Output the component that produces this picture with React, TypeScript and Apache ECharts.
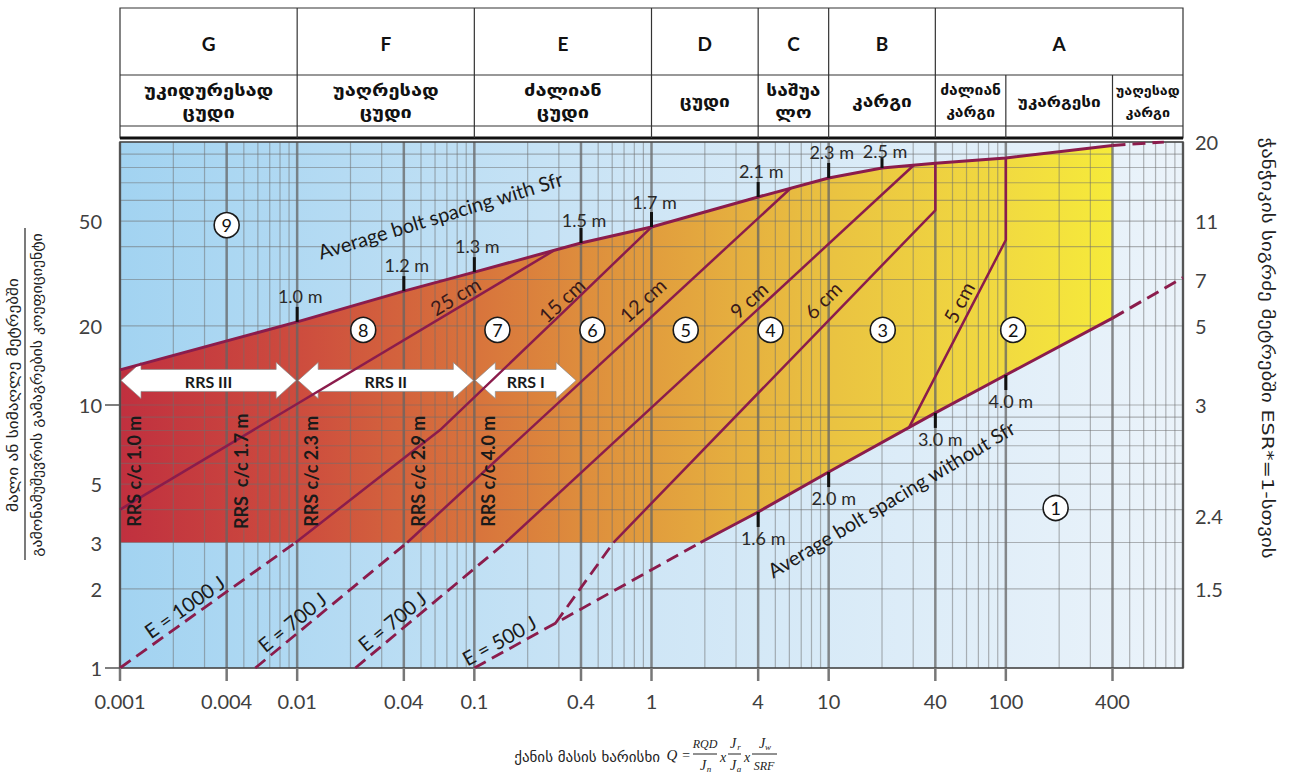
import React, { useEffect, useRef } from "react";
import * as echarts from "echarts";

// ================= DATA =================
// rock mass classes (header table)
const classBounds = [0.001, 0.01, 0.1, 1, 4, 10, 40, 1000];
const classLetters = ["G", "F", "E", "D", "C", "B", "A"];
const nameBounds = [0.001, 0.01, 0.1, 1, 4, 10, 40, 100, 400, 1000];
const classNames = [
  "უკიდურესად\nცუდი",
  "უაღრესად\nცუდი",
  "ძალიან\nცუდი",
  "ცუდი",
  "საშუა\nლო",
  "კარგი",
  "ძალიან\nკარგი",
  "უკარგესი",
  "უაღესად\nკარგი",
];

// axes
const qTicks = [0.001, 0.004, 0.01, 0.04, 0.1, 0.4, 1, 4, 10, 40, 100, 400];
const qTickLabels = ["0.001", "0.004", "0.01", "0.04", "0.1", "0.4", "1", "4", "10", "40", "100", "400"];
const spanTicks = [1, 2, 3, 5, 10, 20, 50];
const spanTickLabels = ["1", "2", "3", "5", "10", "20", "50"];
const boltLenSpan = [100, 50, 30, 20, 10, 3.8, 2];
const boltLenLabels = ["20", "11", "7", "5", "3", "2.4", "1.5"];

// boundary curves (Q, span/ESR)
const upperQ = [0.001, 0.01, 0.04, 0.1, 0.4, 1, 4, 10, 20, 40, 100, 400];
const upperS = [13.6, 20.7, 27.1, 32, 41.3, 47.5, 61.8, 73, 79.6, 83, 87, 97];
const upperExtQ = [400, 780];
const upperExtS = [97, 100];
const lowerQ = [1.89, 4, 10, 40, 100, 400];
const lowerS = [3, 3.92, 5.56, 9.33, 13.0, 21.4];
const lowerExtQ = [400, 1000];
const lowerExtS = [21.4, 30.5];
const lowerLeftQ = [0.1, 0.287, 1.89];
const lowerLeftS = [1, 1.48, 3];

// sprayed concrete thickness lines
const sfr25Q = [0.001, 0.28];
const sfr25S = [4, 38.6];
const sfr15Q = [0.0098, 0.064, 0.306, 1];
const sfr15S = [3, 8.03, 22.0, 47.5];
const sfr12Q = [0.0418, 6.1];
const sfr12S = [3, 66.7];
const sfr9Q = [0.15, 30.2];
const sfr9S = [3, 81.6];
const sfr6Q = [0.61, 40, 40];
const sfr6S = [3, 55, 83];
const sfr5Q = [28.3, 100, 100];
const sfr5S = [8.17, 42.4, 87];

// energy absorption lines (dashed)
const e1000Q = [0.001, 0.0098];
const e1000S = [1, 3];
const e700aQ = [0.0058, 0.0418];
const e700aS = [1, 3];
const e700bQ = [0.0213, 0.15];
const e700bS = [1, 3];
const e500Q = [0.287, 0.61];
const e500S = [1.48, 3];

// bolt spacing marks
const withSfrQ = [0.01, 0.04, 0.1, 0.4, 1, 4, 10, 20];
const withSfrS = [20.7, 27.1, 32, 41.3, 47.5, 61.8, 73, 79.6];
const withSfrLabels = ["1.0 m", "1.2 m", "1.3 m", "1.5 m", "1.7 m", "2.1 m", "2.3 m", "2.5 m"];
const withoutSfrQ = [4, 10, 40, 100];
const withoutSfrS = [3.92, 5.56, 9.33, 13.0];
const withoutSfrLabels = ["1.6 m", "2.0 m", "3.0 m", "4.0 m"];

// line labels
const sfrLabels = ["25 cm", "15 cm", "12 cm", "9 cm", "6 cm", "5 cm"];
const sfrLabelQ = [0.078, 0.31, 0.89, 3.53, 9.25, 54.2];
const sfrLabelS = [26.0, 25.1, 25.1, 25.1, 25.1, 24.6];
const sfrLabelRot = [31, 43, 42, 42, 45, 62];

const eLabels = ["E = 1000 J", "E = 700 J", "E = 700 J", "E = 500 J"];
const eLabelQ = [0.00231, 0.00935, 0.0343, 0.138];
const eLabelS = [1.715, 1.5, 1.51, 1.276];
const eLabelRot = [35, 39, 39, 29];

const curveLabels = ["Average bolt spacing with Sfr", "Average bolt spacing without Sfr"];
const curveLabelQ = [0.0643, 22.5];
const curveLabelS = [52.8, 4.4];
const curveLabelRot = [17, 31];

// support categories
const catLabels = ["9", "8", "7", "6", "5", "4", "3", "2", "1"];
const catQ = [0.004, 0.0236, 0.135, 0.464, 1.56, 4.7, 20.2, 110, 191];
const catS = [48.3, 19.3, 19.3, 19.3, 19.3, 19.3, 19.3, 19.3, 4.06];

// reinforced ribs of sprayed concrete
const rrsFromQ = [0.001, 0.01, 0.1];
const rrsToQ = [0.01, 0.1, 0.38];
const rrsLabels = ["RRS III", "RRS II", "RRS I"];
const rrsSpan = 12.4;
const rrsTextQ = [0.001, 0.004, 0.01, 0.04, 0.1];
const rrsTextLabels = ["RRS c/c 1.0 m", "RRS  c/c 1.7 m", "RRS c/c 2.3 m", "RRS c/c 2.9 m", "RRS c/c 4.0 m"];
const rrsTextSpan = 5.6;

// ================= STYLE =================
const LINE = "#8b1c4c";
const FONT = "Lato, 'DejaVu Sans', sans-serif";
const GEO = "'DejaVu Sans', sans-serif";

const zip = (a: number[], b: number[]) => a.map((v, i) => [v, b[i]]);

function lineSeries(qs: number[], ss: number[], width: number, dashed = false): any {
  return {
    type: "line",
    data: zip(qs, ss),
    symbol: "none",
    silent: true,
    z: 4,
    lineStyle: { color: LINE, width, type: dashed ? [13, 7] : "solid", cap: "butt" },
  };
}

function textSeries(qs: number[], ss: number[], texts: string[], o: any): any {
  return {
    type: "custom",
    z: o.z ?? 6,
    silent: true,
    data: zip(qs, ss),
    renderItem: (params: any, api: any) => {
      const i = params.dataIndex;
      const p = api.coord([api.value(0), api.value(1)]);
      const rot = Array.isArray(o.rot) ? o.rot[i] : o.rot || 0;
      const dy = Array.isArray(o.dy) ? o.dy[i] : o.dy || 0;
      return {
        type: "text",
        x: p[0] + (o.dx || 0),
        y: p[1] + dy,
        rotation: (rot * Math.PI) / 180,
        style: {
          text: texts[i],
          fill: o.color || "#222",
          fontSize: o.size || 16,
          fontFamily: o.family || FONT,
          fontWeight: o.weight || "normal",
          align: o.align || "center",
          verticalAlign: o.valign || "middle",
        },
      };
    },
  };
}

function markSeries(qs: number[], ss: number[], dx: number, dy: number | number[], stroke: string, width: number): any {
  return {
    type: "custom",
    z: 5,
    silent: true,
    data: zip(qs, ss),
    renderItem: (params: any, api: any) => {
      const p = api.coord([api.value(0), api.value(1)]);
      const d = Array.isArray(dy) ? dy[params.dataIndex] : dy;
      return {
        type: "line",
        shape: { x1: p[0], y1: p[1], x2: p[0] + dx, y2: p[1] + d },
        style: { stroke, lineWidth: width },
      };
    },
  };
}

function buildOption(): any {
  // grid line positions (axis structure)
  const vGrid: number[][] = [];
  for (let k = -3; k <= 2; k++) {
    for (let m = 1; m <= 9; m++) {
      const q = m * Math.pow(10, k);
      const major = m === 1 || m === 4 ? 1 : 0;
      vGrid.push([q, 1, major]);
    }
  }
  vGrid.push([1000, 1, 1]);
  const hGrid: number[][] = [];
  for (let k = 0; k <= 1; k++) {
    for (let m = 1; m <= 9; m++) hGrid.push([0.001, m * Math.pow(10, k)]);
  }
  hGrid.push([0.001, 100]);

  const regionStops = [
    { offset: 0, color: "#c0303f" },
    { offset: 0.18, color: "#cd4c3e" },
    { offset: 0.36, color: "#d8743c" },
    { offset: 0.53, color: "#e19c3d" },
    { offset: 0.72, color: "#eac341" },
    { offset: 0.89, color: "#f1da40" },
    { offset: 1, color: "#f6ea3a" },
  ];

  return {
    animation: false,
    grid: {
      left: 120,
      right: 108,
      top: 142,
      bottom: 110,
      show: true,
      borderWidth: 0,
      backgroundColor: new echarts.graphic.LinearGradient(0, 0, 1, 0, [
        { offset: 0, color: "#a2d3f1" },
        { offset: 0.5, color: "#cfe6f6" },
        { offset: 1, color: "#ebf3fa" },
      ]),
    },
    xAxis: {
      type: "log",
      logBase: 10,
      min: 0.001,
      max: 1000,
      axisLabel: { show: false },
      axisTick: { show: false },
      axisLine: { show: false },
      splitLine: { show: false },
    },
    yAxis: {
      type: "log",
      logBase: 10,
      min: 1,
      max: 100,
      axisLabel: { show: false },
      axisTick: { show: false },
      axisLine: { show: false },
      splitLine: { show: false },
    },
    series: [
      // support region polygon
      {
        type: "custom",
        z: 1,
        silent: true,
        data: [[0.001, 3]],
        renderItem: (_p: any, api: any) => {
          const pts: number[][] = [];
          upperQ.forEach((q, i) => pts.push(api.coord([q, upperS[i]])));
          for (let i = lowerQ.length - 1; i >= 0; i--) pts.push(api.coord([lowerQ[i], lowerS[i]]));
          pts.push(api.coord([0.001, 3]));
          const x0 = api.coord([0.001, 3])[0];
          const x1 = api.coord([400, 3])[0];
          return {
            type: "polygon",
            shape: { points: pts },
            style: { fill: new echarts.graphic.LinearGradient(x0, 0, x1, 0, regionStops, true) },
          };
        },
      },
      // vertical grid lines
      {
        type: "custom",
        z: 2,
        silent: true,
        data: vGrid,
        renderItem: (_p: any, api: any) => {
          const q = api.value(0);
          const major = api.value(2) === 1;
          const a = api.coord([q, 1]);
          const b = api.coord([q, 100]);
          return {
            type: "line",
            shape: { x1: a[0], y1: a[1], x2: b[0], y2: b[1] },
            style: {
              stroke: major ? "rgba(100,100,100,0.75)" : "rgba(110,110,110,0.5)",
              lineWidth: major ? 2.5 : 1.2,
            },
          };
        },
      },
      // horizontal grid lines
      {
        type: "custom",
        z: 2,
        silent: true,
        data: hGrid,
        renderItem: (_p: any, api: any) => {
          const s = api.value(1);
          const a = api.coord([0.001, s]);
          const b = api.coord([1000, s]);
          return {
            type: "line",
            shape: { x1: a[0], y1: a[1], x2: b[0], y2: b[1] },
            style: { stroke: "rgba(110,110,110,0.5)", lineWidth: 1.2 },
          };
        },
      },
      // frame
      {
        type: "custom",
        z: 3,
        silent: true,
        data: [[0.001, 1]],
        renderItem: (_p: any, api: any) => {
          const a = api.coord([0.001, 100]);
          const b = api.coord([1000, 1]);
          return {
            type: "rect",
            shape: { x: a[0], y: a[1], width: b[0] - a[0], height: b[1] - a[1] },
            style: { fill: "none", stroke: "#444", lineWidth: 1.5 },
          };
        },
      },
      // bottom ticks
      markSeries(qTicks, qTicks.map(() => 1), 0, 13, "#777", 2.5),
      // left ticks at 1 and 10
      markSeries([0.001, 0.001], [1, 10], -15, 0, "#555", 1.5),
      // RRS arrows
      {
        type: "custom",
        z: 3,
        silent: true,
        data: rrsFromQ.map((q, i) => [q, rrsSpan, rrsToQ[i]]),
        renderItem: (params: any, api: any) => {
          const a = api.coord([api.value(0), api.value(1)]);
          const b = api.coord([api.value(2), api.value(1)]);
          const y = a[1];
          const hh = 18, bh = 11, hl = 20;
          const x0 = a[0] + 1, x1 = b[0] - 1;
          return {
            type: "group",
            children: [
              {
                type: "polygon",
                shape: {
                  points: [
                    [x0, y], [x0 + hl, y - hh], [x0 + hl, y - bh], [x1 - hl, y - bh], [x1 - hl, y - hh],
                    [x1, y], [x1 - hl, y + hh], [x1 - hl, y + bh], [x0 + hl, y + bh], [x0 + hl, y + hh],
                  ],
                },
                style: { fill: "#ffffff", stroke: "rgba(140,140,140,0.7)", lineWidth: 1 },
              },
              {
                type: "text",
                x: (x0 + x1) / 2,
                y: y + 1,
                style: {
                  text: rrsLabels[params.dataIndex],
                  fill: "#1a1a1a",
                  fontSize: 16,
                  fontWeight: "bold",
                  fontFamily: FONT,
                  align: "center",
                  verticalAlign: "middle",
                },
              },
            ],
          };
        },
      },
      // boundary curves
      lineSeries(upperQ, upperS, 3),
      lineSeries(upperExtQ, upperExtS, 3, true),
      lineSeries(lowerQ, lowerS, 3),
      lineSeries(lowerExtQ, lowerExtS, 3, true),
      lineSeries(lowerLeftQ, lowerLeftS, 2.8, true),
      // sprayed concrete lines
      lineSeries(sfr25Q, sfr25S, 2.5),
      lineSeries(sfr15Q, sfr15S, 2.5),
      lineSeries(sfr12Q, sfr12S, 2.5),
      lineSeries(sfr9Q, sfr9S, 2.5),
      lineSeries(sfr6Q, sfr6S, 2.5),
      lineSeries(sfr5Q, sfr5S, 2.5),
      // energy lines
      lineSeries(e1000Q, e1000S, 2.8, true),
      lineSeries(e700aQ, e700aS, 2.8, true),
      lineSeries(e700bQ, e700bS, 2.8, true),
      lineSeries(e500Q, e500S, 2.8, true),
      // bolt spacing marks
      markSeries(withSfrQ, withSfrS, 0, [-15, -15, -15, -15, -15, -15, -15, -10], "#111", 3),
      markSeries(withoutSfrQ, withoutSfrS, 0, 15, "#111", 3),
      textSeries(withSfrQ, withSfrS, withSfrLabels, {
        dx: 3,
        dy: [-26, -26, -26, -23, -25, -26, -26, -17],
        size: 18,
        color: "#2a2a2a",
      }),
      textSeries(withoutSfrQ, withoutSfrS, withoutSfrLabels, { dx: 5, dy: 26, size: 18, color: "#2a2a2a" }),
      // line labels
      textSeries(sfrLabelQ, sfrLabelS, sfrLabels, { rot: sfrLabelRot, size: 20, color: "#3a1a1a" }),
      textSeries(eLabelQ, eLabelS, eLabels, { rot: eLabelRot, size: 20, color: "#1a1a1a" }),
      textSeries(curveLabelQ, curveLabelS, curveLabels, { rot: curveLabelRot, size: 20, color: "#1a1a1a" }),
      textSeries(rrsTextQ, rrsTextQ.map(() => rrsTextSpan), rrsTextLabels, {
        rot: 90,
        dx: 14,
        size: 18,
        weight: "bold",
        color: "#1a1a1a",
      }),
      // categories
      {
        type: "scatter",
        z: 6,
        silent: true,
        symbol: "circle",
        symbolSize: 25,
        data: zip(catQ, catS),
        itemStyle: { color: "#ffffff", borderColor: "#1a1a1a", borderWidth: 1.6, opacity: 1 },
        label: {
          show: true,
          position: "inside",
          formatter: (p: any) => catLabels[p.dataIndex],
          color: "#111",
          fontSize: 18,
          fontFamily: FONT,
        },
      },
      // axis labels
      textSeries(qTicks, qTicks.map(() => 1), qTickLabels, { dy: 33, size: 20, color: "#404040" }),
      textSeries(spanTicks.map(() => 0.001), spanTicks, spanTickLabels, {
        dx: -18,
        size: 20,
        color: "#404040",
        align: "right",
      }),
      textSeries(boltLenSpan.map(() => 1000), boltLenSpan, boltLenLabels, {
        dx: 12,
        size: 20,
        color: "#404040",
        align: "left",
      }),
    ],
  };
}

function buildGraphic(chart: any): any[] {
  const px = (q: number) => chart.convertToPixel({ xAxisIndex: 0 }, q) as number;
  const els: any[] = [];
  const T = 8, R1 = 75, R2 = 126, R3 = 138;
  const L = px(classBounds[0]);
  const R = px(classBounds[classBounds.length - 1]);
  const stroke = "#333";
  els.push({ type: "rect", shape: { x: L, y: T, width: R - L, height: R3 - T }, style: { fill: "#fff", stroke, lineWidth: 1.2 } });
  els.push({ type: "line", shape: { x1: L, y1: R1, x2: R, y2: R1 }, style: { stroke, lineWidth: 1.2 } });
  els.push({ type: "line", shape: { x1: L, y1: R2, x2: R, y2: R2 }, style: { stroke, lineWidth: 1.2 } });
  els.push({ type: "line", shape: { x1: L, y1: R3, x2: R, y2: R3 }, style: { stroke: "#111", lineWidth: 3 } });
  classBounds.slice(1, -1).forEach((q) => {
    const x = px(q);
    els.push({ type: "line", shape: { x1: x, y1: T, x2: x, y2: R3 }, style: { stroke, lineWidth: 1.2 } });
  });
  nameBounds
    .filter((q) => classBounds.indexOf(q) < 0)
    .forEach((q) => {
      const x = px(q);
      els.push({ type: "line", shape: { x1: x, y1: R1, x2: x, y2: R3 }, style: { stroke, lineWidth: 1.2 } });
    });
  classLetters.forEach((t, i) => {
    const x = (px(classBounds[i]) + px(classBounds[i + 1])) / 2;
    els.push({
      type: "text",
      x,
      y: (T + R1) / 2 + 2,
      style: { text: t, fontSize: 19, fontWeight: "bold", fontFamily: FONT, fill: "#111", align: "center", verticalAlign: "middle" },
    });
  });
  const nameSizes = [16, 16, 16, 16, 16, 16, 14, 15, 13];
  const nameStretch = [1.25, 1.25, 1.25, 1.2, 1.2, 1.2, 1.12, 1.15, 1.1];
  classNames.forEach((t, i) => {
    const x = (px(nameBounds[i]) + px(nameBounds[i + 1])) / 2;
    els.push({
      type: "text",
      x,
      y: (R1 + R2) / 2 + 1,
      scaleX: nameStretch[i],
      style: {
        text: t,
        fontSize: nameSizes[i],
        fontWeight: "bold",
        fontFamily: GEO,
        fill: "#111",
        align: "center",
        verticalAlign: "middle",
        lineHeight: 22,
      },
    });
  });

  // left axis title (fraction)
  els.push({
    type: "text",
    x: 13,
    y: 395,
    rotation: Math.PI / 2,
    scaleX: 1.15,
    style: { text: "მალი ან სიმაღლე მეტრებში", fontSize: 15, fontFamily: GEO, fill: "#222", align: "center", verticalAlign: "middle" },
  });
  els.push({ type: "line", shape: { x1: 25, y1: 228, x2: 25, y2: 560 }, style: { stroke: "#222", lineWidth: 1.2 } });
  els.push({
    type: "text",
    x: 37,
    y: 395,
    rotation: Math.PI / 2,
    scaleX: 1.17,
    style: {
      text: "გამონამუშევრის გამაგრების კოეფიციენტი",
      fontSize: 13.5,
      fontFamily: GEO,
      fill: "#222",
      align: "center",
      verticalAlign: "middle",
    },
  });

  // right axis title
  els.push({
    type: "text",
    x: 1268,
    y: 348,
    rotation: -Math.PI / 2,
    scaleX: 1.3,
    style: {
      text: "ჭანჭიკის სიგრძე მეტრებში ESR*=1-სთვის",
      fontSize: 16,
      fontFamily: GEO,
      fill: "#222",
      align: "center",
      verticalAlign: "middle",
    },
  });

  // bottom title with formula
  const ty = 757;
  els.push({
    type: "text",
    x: 660,
    y: ty,
    style: { text: "ქანის მასის ხარისხი", fontSize: 15, fontFamily: GEO, fill: "#222", align: "right", verticalAlign: "middle" },
  });
  const SERIF = "'Liberation Serif', 'DejaVu Serif', serif";
  const it = (text: string, x: number, y: number, size = 14) => ({
    type: "text",
    x,
    y,
    style: { text, fontSize: size, fontStyle: "italic", fontFamily: SERIF, fill: "#222", align: "center", verticalAlign: "middle" },
  });
  const bar = (x1: number, x2: number) => ({ type: "line", shape: { x1, y1: ty - 3, x2, y2: ty - 3 }, style: { stroke: "#222", lineWidth: 1 } });
  const jsub = (x: number, y: number, sub: string) => [it("J", x - 2, y, 14), it(sub, x + 4, y + 4, 9)];
  els.push(it("Q", 672, ty - 2, 15));
  els.push(it("=", 686, ty - 2, 14));
  els.push(it("RQD", 705, ty - 13, 12));
  els.push(bar(693, 717));
  els.push(...jsub(705, ty + 8, "n"));
  els.push(it("x", 723, ty, 14));
  els.push(...jsub(735, ty - 14, "r"));
  els.push(bar(728, 741));
  els.push(...jsub(735, ty + 8, "a"));
  els.push(it("x", 747, ty, 14));
  els.push(...jsub(764, ty - 14, "w"));
  els.push(bar(752, 777));
  els.push(it("SRF", 764, ty + 9, 12));

  return els;
}

export default function App() {
  const ref = useRef<HTMLDivElement>(null);
  useEffect(() => {
    const el = ref.current;
    if (!el) return;
    const chart = echarts.init(el, null, { renderer: "svg" });
    chart.setOption(buildOption());
    chart.setOption({ graphic: buildGraphic(chart) });
    return () => chart.dispose();
  }, []);
  return (
    <div
      ref={ref}
      style={{ position: "fixed", left: 0, top: 0, width: 1291, height: 778, background: "#ffffff" }}
    />
  );
}
